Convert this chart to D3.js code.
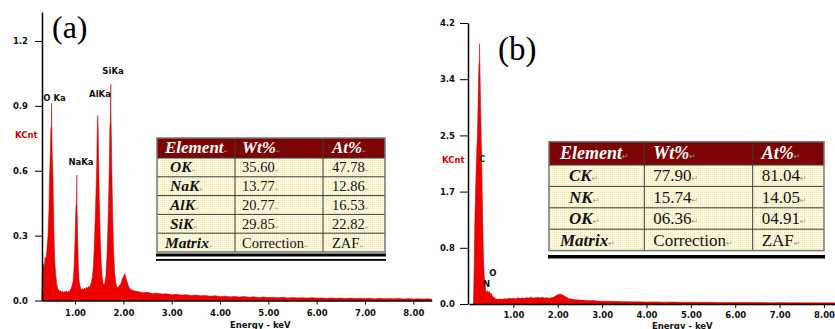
<!DOCTYPE html>
<html>
<head>
<meta charset="utf-8">
<script src="https://cdn.jsdelivr.net/npm/d3@7"></script>
<style>
  body { margin: 0; background: #fff; }
  svg { display: block; }
  .axis text { font-family: "DejaVu Sans", Verdana, sans-serif; font-weight: bold; font-size: 8.5px; fill: #111; }
  .axis .domain { stroke: #000; stroke-width: 1.5; }
  .axis line { stroke: #000; stroke-width: 1; }
</style>
</head>
<body>
<svg id="chart" width="835" height="329"></svg>
<script>
// ---- data ----
// spectrum (a): [keV, KCnt]
const specA = [
  [0.31,0],[0.32,0.12],[0.34,0.17],[0.36,0.15],[0.38,0.20],[0.40,0.19],[0.42,0.24],[0.44,0.30],
  [0.46,0.42],[0.47,0.55],[0.48,0.62],[0.49,0.70],[0.50,0.80],[0.51,0.80],[0.515,0.914],[0.52,0.80],
  [0.53,0.66],[0.54,0.60],[0.55,0.48],[0.56,0.36],[0.57,0.26],[0.58,0.18],[0.60,0.12],[0.62,0.08],
  [0.64,0.055],[0.66,0.05],[0.68,0.042],[0.70,0.046],[0.72,0.038],[0.74,0.044],[0.76,0.036],[0.78,0.042],
  [0.80,0.038],[0.82,0.045],[0.84,0.037],[0.86,0.043],[0.88,0.04],[0.90,0.048],[0.92,0.055],[0.94,0.07],
  [0.96,0.09],[0.98,0.15],[1.00,0.28],[1.01,0.38],[1.02,0.44],[1.03,0.45],[1.035,0.58],[1.04,0.45],
  [1.05,0.34],[1.06,0.24],[1.07,0.15],[1.08,0.10],[1.10,0.07],[1.12,0.055],[1.14,0.05],[1.16,0.056],
  [1.18,0.048],[1.20,0.058],[1.22,0.052],[1.24,0.062],[1.26,0.055],[1.28,0.066],[1.30,0.06],[1.32,0.072],
  [1.34,0.085],[1.36,0.11],[1.38,0.16],[1.40,0.26],[1.42,0.40],[1.44,0.55],[1.45,0.64],[1.46,0.80],
  [1.465,0.82],[1.47,0.855],[1.475,0.82],[1.48,0.78],[1.49,0.62],[1.50,0.50],[1.51,0.40],[1.52,0.30],
  [1.54,0.18],[1.56,0.11],[1.58,0.08],[1.60,0.07],[1.62,0.085],[1.64,0.12],[1.66,0.20],[1.68,0.34],
  [1.70,0.52],[1.71,0.64],[1.72,0.80],[1.73,0.83],[1.74,1.00],[1.745,0.83],[1.75,0.78],[1.76,0.62],
  [1.77,0.50],[1.78,0.38],[1.80,0.22],[1.82,0.13],[1.84,0.085],[1.86,0.065],[1.88,0.06],[1.90,0.062],
  [1.92,0.07],[1.94,0.075],[1.96,0.085],[1.98,0.10],[2.00,0.11],[2.02,0.12],[2.03,0.125],[2.04,0.115],
  [2.06,0.10],[2.08,0.085],[2.10,0.07],[2.12,0.06],[2.15,0.052],[2.18,0.048],[2.21,0.045],[2.25,0.044],
  [2.3,0.042],[2.4,0.036],[2.5,0.038],[2.6,0.032],[2.7,0.034],[2.8,0.030],[2.9,0.031],[3.0,0.027],
  [3.1,0.029],[3.2,0.025],[3.3,0.027],[3.4,0.023],[3.5,0.025],[3.6,0.022],[3.7,0.023],[3.8,0.020],
  [3.9,0.022],[4.0,0.019],[4.1,0.020],[4.2,0.017],[4.3,0.019],[4.4,0.016],[4.5,0.018],[4.6,0.015],
  [4.7,0.017],[4.8,0.014],[4.9,0.016],[5.0,0.014],[5.1,0.015],[5.2,0.013],[5.3,0.015],[5.4,0.012],
  [5.5,0.014],[5.6,0.012],[5.7,0.013],[5.8,0.011],[5.9,0.013],[6.0,0.011],[6.1,0.012],[6.2,0.010],
  [6.3,0.012],[6.4,0.010],[6.5,0.011],[6.6,0.009],[6.7,0.011],[6.8,0.009],[6.9,0.010],[7.0,0.009],
  [7.1,0.010],[7.2,0.008],[7.3,0.010],[7.4,0.008],[7.5,0.009],[7.6,0.008],[7.7,0.009],[7.8,0.007],
  [7.9,0.009],[8.0,0.007],[8.1,0.008],[8.2,0.007],[8.3,0.008],[8.38,0.007]
]

// spectrum (b): [keV, KCnt]
const specB = [
  [0.10,0],[0.115,0.5],[0.13,1.2],[0.15,1.75],[0.17,2.2],[0.19,2.55],[0.205,3.0],[0.215,3.35],
  [0.225,3.6],[0.232,3.6],[0.238,3.89],[0.244,3.6],[0.25,3.4],[0.26,3.0],[0.275,2.5],[0.29,2.0],
  [0.30,1.6],[0.31,1.2],[0.32,0.9],[0.33,0.6],[0.345,0.4],[0.36,0.28],[0.38,0.2],[0.40,0.16],
  [0.42,0.2],[0.44,0.17],[0.46,0.19],[0.48,0.15],[0.50,0.16],[0.53,0.12],[0.56,0.10],[0.60,0.08],
  [0.65,0.07],[0.70,0.075],[0.75,0.07],[0.80,0.08],[0.85,0.075],[0.90,0.085],[0.95,0.08],[1.00,0.085],
  [1.05,0.08],[1.10,0.09],[1.15,0.085],[1.20,0.09],[1.25,0.085],[1.30,0.095],[1.35,0.09],[1.40,0.1],
  [1.45,0.09],[1.50,0.095],[1.55,0.1],[1.60,0.09],[1.65,0.1],[1.70,0.09],[1.75,0.095],[1.80,0.085],
  [1.85,0.095],[1.90,0.1],[1.95,0.12],[2.00,0.14],[2.05,0.15],[2.10,0.14],[2.15,0.12],[2.20,0.1],
  [2.25,0.08],[2.30,0.075],[2.40,0.065],[2.50,0.06],[2.6,0.055],[2.7,0.05],[2.8,0.052],[2.9,0.045],
  [3.0,0.042],[3.2,0.04],[3.4,0.036],[3.6,0.035],[3.8,0.032],[4.0,0.03],[4.2,0.031],[4.4,0.028],
  [4.6,0.029],[4.8,0.026],[5.0,0.027],[5.2,0.025],[5.4,0.026],[5.6,0.023],[5.8,0.024],[6.0,0.022],
  [6.2,0.023],[6.4,0.021],[6.6,0.022],[6.8,0.02],[7.0,0.021],[7.2,0.019],[7.4,0.02],[7.6,0.018],
  [7.8,0.019],[8.0,0.017],[8.3,0.018]
]

const xTicks = [1, 2, 3, 4, 5, 6, 7, 8]
const yTicksA = [0, 0.3, 0.6, 0.9, 1.2]
const yTicksB = [0, 0.84, 1.68, 2.52, 3.36, 4.2]

// peak labels: name, keV (label centre), KCnt (label baseline)
const peakNamesA = ['O Ka', 'NaKa', 'AlKa', 'SiKa']
const peakKevA = [0.575, 1.124, 1.517, 1.786]
const peakCntA = [0.923, 0.627, 0.941, 1.048]
const peakNamesB = ['C', 'O', 'N']
const peakKevB = [0.294, 0.54, 0.395]
const peakCntB = [2.12, 0.42, 0.25]

// tables
const headers = ['Element', 'Wt%', 'At%']
const namesA = ['OK', 'NaK', 'AlK', 'SiK', 'Matrix']
const wtA = ['35.60', '13.77', '20.77', '29.85', 'Correction']
const atA = ['47.78', '12.86', '16.53', '22.82', 'ZAF']
const namesB = ['CK', 'NK', 'OK', 'Matrix']
const wtB = ['77.90', '15.74', '06.36', 'Correction']
const atB = ['81.04', '14.05', '04.91', 'ZAF']

const svg = d3.select('#chart')

const defs = svg.append('defs')
const pat = defs.append('pattern')
  .attr('id', 'cream').attr('width', 2).attr('height', 2)
  .attr('patternUnits', 'userSpaceOnUse')
pat.append('rect').attr('width', 2).attr('height', 2).attr('fill', '#fffbe0')
pat.append('rect').attr('width', 1).attr('height', 1).attr('fill', '#eee6b4')

function drawSpectrum(spec, x, y, yAxisX, yTicks, tickSize, tickPad, xPad) {
  const area = d3.area()
    .x(d => x(d[0]))
    .y0(y(0))
    .y1(d => y(d[1]))

  svg.append('path')
    .datum(spec)
    .attr('d', area)
    .attr('fill', '#ee0000')
    .attr('stroke', '#c00000')
    .attr('stroke-width', 0.5)

  svg.append('g')
    .attr('class', 'axis')
    .attr('transform', `translate(0, ${y(0)})`)
    .call(d3.axisBottom(x)
      .tickValues(xTicks)
      .tickFormat(d3.format('.2f'))
      .tickSize(4)
      .tickSizeOuter(0)
      .tickPadding(xPad))

  svg.append('g')
    .attr('class', 'axis')
    .attr('transform', `translate(${yAxisX}, 0)`)
    .call(d3.axisLeft(y)
      .tickValues(yTicks)
      .tickFormat(d3.format('.1f'))
      .tickSize(tickSize)
      .tickSizeOuter(0)
      .tickPadding(tickPad))
}

function drawPeakLabels(names, kev, cnt, x, y) {
  svg.append('g').selectAll('text')
    .data(names)
    .join('text')
      .attr('x', (d, i) => x(kev[i]))
      .attr('y', (d, i) => y(cnt[i]))
      .attr('text-anchor', 'middle')
      .attr('font-family', '"DejaVu Sans", Verdana, sans-serif')
      .attr('font-weight', 'bold')
      .attr('font-size', 8.5)
      .attr('fill', '#111')
      .text(d => d)
}

function drawTable(t) {
  const g = svg.append('g')
  const cols = t.cols
  const nRows = t.names.length
  const bodyTop = t.top + t.headH
  const bottom = bodyTop + nRows * t.rowH

  g.append('rect')
    .attr('x', cols[0]).attr('y', t.top)
    .attr('width', cols[3] - cols[0]).attr('height', t.headH)
    .attr('fill', '#7d0404')
  g.append('rect')
    .attr('x', cols[0]).attr('y', bodyTop)
    .attr('width', cols[3] - cols[0]).attr('height', nRows * t.rowH)
    .attr('fill', 'url(#cream)')

  // grid lines
  g.selectAll('.hl')
    .data(d3.range(nRows))
    .join('line')
      .attr('x1', cols[0]).attr('x2', cols[3])
      .attr('y1', i => bodyTop + i * t.rowH).attr('y2', i => bodyTop + i * t.rowH)
      .attr('stroke', '#3a3a3a').attr('stroke-width', 1)
  g.selectAll('.vl')
    .data([cols[1], cols[2]])
    .join('line')
      .attr('x1', d => d).attr('x2', d => d)
      .attr('y1', t.top).attr('y2', bottom)
      .attr('stroke', '#3a3a3a').attr('stroke-width', 1)
  g.append('rect')
    .attr('x', cols[0]).attr('y', t.top)
    .attr('width', cols[3] - cols[0]).attr('height', bottom - t.top)
    .attr('fill', 'none').attr('stroke', '#777').attr('stroke-width', 1.5)

  // thick bottom rules
  t.rules.forEach(r => {
    g.append('rect')
      .attr('x', cols[0] - 1).attr('y', r[0])
      .attr('width', cols[3] - cols[0] + 2).attr('height', r[1])
      .attr('fill', '#000')
  })

  const mark = (sel) => sel.append('tspan')
    .attr('font-family', '"DejaVu Sans", sans-serif')
    .attr('font-style', 'normal').attr('font-weight', 'normal')
    .attr('font-size', t.markSize).attr('fill', '#999')
    .text('↵')

  // header
  g.selectAll('.hd')
    .data(headers)
    .join('text')
      .attr('x', (d, i) => cols[i] + t.headPad[i])
      .attr('y', t.top + t.headH - t.headBase)
      .attr('font-family', '"Liberation Serif", "Times New Roman", serif')
      .attr('font-style', 'italic').attr('font-weight', 'bold')
      .attr('font-size', t.headSize).attr('fill', '#fff')
      .text(d => d)
      .call(mark)

  // body
  const rowY = i => bodyTop + (i + 1) * t.rowH - t.rowBase
  g.selectAll('.nm')
    .data(t.names)
    .join('text')
      .attr('x', d => cols[0] + (d === 'Matrix' ? t.matrixPad : t.namePad))
      .attr('y', (d, i) => rowY(i))
      .attr('font-family', '"Liberation Serif", "Times New Roman", serif')
      .attr('font-style', 'italic').attr('font-weight', 'bold')
      .attr('font-size', t.nameSize).attr('fill', '#111')
      .text(d => d)
      .call(mark)
  ;[t.wt, t.at].forEach((vals, c) => {
    g.selectAll('.v' + c)
      .data(vals)
      .join('text')
        .attr('x', cols[c + 1] + t.headPad[c + 1])
        .attr('y', (d, i) => rowY(i))
        .attr('font-family', '"Liberation Serif", "Times New Roman", serif')
        .attr('font-size', t.valSize).attr('fill', '#111')
        .text(d => d)
        .call(mark)
  })
}

// ---- panel (a) ----
const xA = d3.scaleLinear().domain([0.31, 8.38]).range([41.7, 431.7])
const yA = d3.scaleLinear().domain([0, 1.334]).range([300.5, 12])
drawSpectrum(specA, xA, yA, 42, yTicksA, 7, 7, 5)
drawPeakLabels(peakNamesA, peakKevA, peakCntA, xA, yA)

svg.append('text')
  .attr('x', 15).attr('y', 138)
  .attr('font-family', '"DejaVu Sans", Verdana, sans-serif')
  .attr('font-weight', 'bold').attr('font-size', 8.5)
  .attr('fill', '#d40000')
  .text('KCnt')
svg.append('text')
  .attr('x', 230).attr('y', 327.5)
  .attr('font-family', '"DejaVu Sans", Verdana, sans-serif')
  .attr('font-weight', 'bold').attr('font-size', 8.5)
  .attr('fill', '#111')
  .text('Energy - keV')
svg.append('text')
  .attr('x', 52).attr('y', 38)
  .attr('font-family', '"Liberation Serif", "Times New Roman", serif')
  .attr('font-size', 32).attr('fill', '#000')
  .text('(a)')

drawTable({
  cols: [157, 235, 323, 385], top: 138, headH: 20, rowH: 18.8,
  names: namesA, wt: wtA, at: atA,
  headPad: [8, 7, 9], namePad: 13, matrixPad: 8,
  headSize: 17, nameSize: 15.5, valSize: 14.5, markSize: 5,
  headBase: 5, rowBase: 4.5,
  rules: [[253.5, 3], [259, 1.8]]
})

// ---- panel (b) ----
const xB = d3.scaleLinear().domain([0, 8.3]).range([469, 837.3])
const yB = d3.scaleLinear().domain([0, 4.2]).range([304, 23])
drawSpectrum(specB, xB, yB, 468, yTicksB, 8, 5, 4)
drawPeakLabels(peakNamesB, peakKevB, peakCntB, xB, yB)

svg.append('text')
  .attr('x', 442).attr('y', 162.5)
  .attr('font-family', '"DejaVu Sans", Verdana, sans-serif')
  .attr('font-weight', 'bold').attr('font-size', 8.5)
  .attr('fill', '#d40000')
  .text('KCnt')
svg.append('text')
  .attr('x', 652).attr('y', 328.5)
  .attr('font-family', '"DejaVu Sans", Verdana, sans-serif')
  .attr('font-weight', 'bold').attr('font-size', 8.5)
  .attr('fill', '#111')
  .text('Energy - keV')
svg.append('text')
  .attr('x', 498).attr('y', 60)
  .attr('font-family', '"Liberation Serif", "Times New Roman", serif')
  .attr('font-size', 33).attr('fill', '#000')
  .text('(b)')

drawTable({
  cols: [549, 644.3, 752.7, 824], top: 141.7, headH: 23.3, rowH: 21.4,
  names: namesB, wt: wtB, at: atB,
  headPad: [11, 9, 9], namePad: 20, matrixPad: 11,
  headSize: 18, nameSize: 17, valSize: 17, markSize: 8,
  headBase: 6, rowBase: 5,
  rules: [[255, 3.5]]
})
</script>
</body>
</html>
